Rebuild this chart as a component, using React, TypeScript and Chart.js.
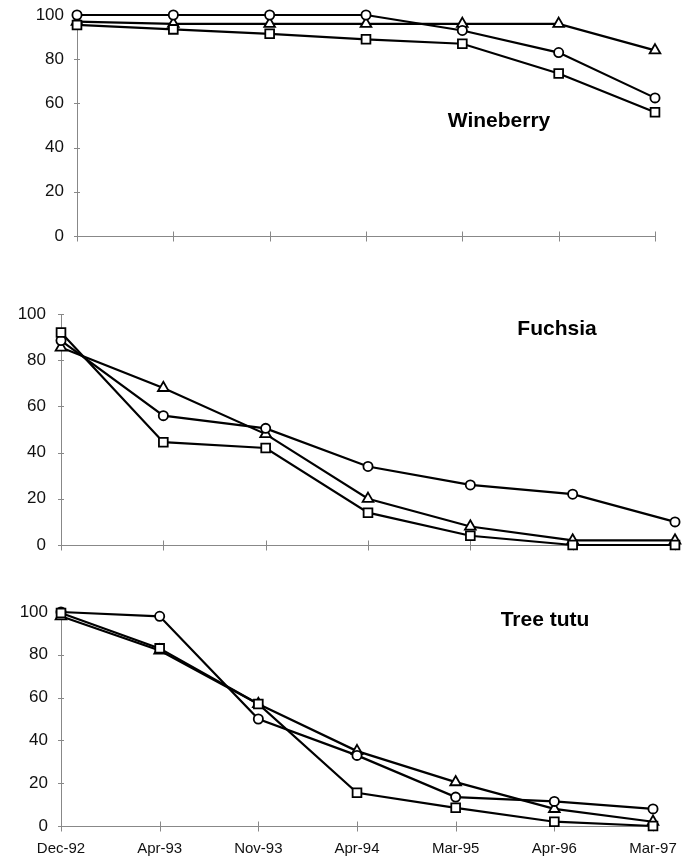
import React, { useEffect, useRef } from "react";
import { Chart, registerables } from "chart.js";

Chart.register(...registerables);

const dates = ["Dec-92", "Apr-93", "Nov-93", "Apr-94", "Mar-95", "Apr-96", "Mar-97"];
const yTicks = [0, 20, 40, 60, 80, 100];

const wineberryCircle = [100, 100, 100, 100, 93, 83, 62.5];
const wineberryTriangle = [97, 96, 96, 96, 96, 96, 84];
const wineberrySquare = [95.5, 93.5, 91.5, 89, 87, 73.5, 56];

const fuchsiaCircle = [88.5, 56, 50.5, 34, 26, 22, 10];
const fuchsiaTriangle = [85.5, 68, 48, 20, 8, 2, 2];
const fuchsiaSquare = [92, 44.5, 42, 14, 4, 0, 0];

const tutuCircle = [100, 98, 50, 33, 13.5, 11.5, 8];
const tutuTriangle = [98, 82, 57, 35, 20.5, 8, 2];
const tutuSquare = [99.5, 83, 57, 15.5, 8.5, 2, 0];

const FONT = "'Liberation Sans', Arial, Helvetica, sans-serif";
const W = 691;

const crossTicks = {
  id: "crossTicks",
  beforeDatasetsDraw(chart: any) {
    const ctx = chart.ctx;
    const xs = chart.scales.x;
    const ys = chart.scales.y;
    const area = chart.chartArea;
    ctx.save();
    ctx.strokeStyle = "#888";
    ctx.lineWidth = 1;
    const by = Math.round(area.bottom) + 0.5;
    ys.ticks.forEach((_: any, i: number) => {
      const yy = Math.round(ys.getPixelForTick(i)) + 0.5;
      ctx.beginPath();
      ctx.moveTo(area.left - 3, yy);
      ctx.lineTo(area.left + 3, yy);
      ctx.stroke();
    });
    dates.forEach((_: any, i: number) => {
      const xx = Math.round(xs.getPixelForValue(i)) + 0.5;
      ctx.beginPath();
      ctx.moveTo(xx, by - 5);
      ctx.lineTo(xx, by + 5);
      ctx.stroke();
    });
    ctx.restore();
  },
};

type PanelProps = {
  circle: number[];
  triangle: number[];
  square: number[];
  top: number;
  height: number;
  axisX: number;
  rightX: number;
  plotTop: number;
  plotBottom: number;
  labelGap: number;
  showX: boolean;
  title: string;
  titleX: number;
  titleY: number;
};

function mk(data: number[], style: string, radius: number) {
  return {
    data,
    borderColor: "#000",
    borderWidth: 2.2,
    pointStyle: style,
    pointRadius: radius,
    pointBorderWidth: 1.8,
    pointBackgroundColor: "#fff",
    pointBorderColor: "#000",
    tension: 0,
    clip: false,
    fill: false,
  };
}

function Panel(p: PanelProps) {
  const ref = useRef<HTMLCanvasElement | null>(null);
  useEffect(() => {
    if (!ref.current) return;
    const chart = new Chart(ref.current, {
      type: "line",
      data: {
        labels: dates,
        datasets: [
          mk(p.square, "rect", 6.2) as any,
          mk(p.circle, "circle", 4.6) as any,
          mk(p.triangle, "triangle", 6.2) as any,
        ],
      },
      options: {
        animation: false,
        responsive: false,
        devicePixelRatio: 1,
        layout: { padding: { top: p.plotTop, right: W - p.rightX, left: 0, bottom: 0 } },
        plugins: { legend: { display: false }, tooltip: { enabled: false }, title: { display: false } },
        scales: {
          x: {
            type: "category",
            offset: false,
            grid: { display: false, drawTicks: false },
            border: { display: true, color: "#888", width: 1 },
            ticks: {
              display: p.showX,
              autoSkip: false,
              maxRotation: 0,
              padding: 14,
              color: "#111",
              font: { family: FONT, size: 15 },
            },
            afterFit: (s: any) => {
              s.height = p.height - p.plotBottom;
            },
          },
          y: {
            min: 0,
            max: 100,
            afterBuildTicks: (s: any) => {
              s.ticks = yTicks.map((v) => ({ value: v }));
            },
            grid: { display: false, drawTicks: true, tickLength: p.labelGap },
            border: { display: true, color: "#888", width: 1 },
            ticks: {
              padding: 0,
              color: "#111",
              font: { family: FONT, size: 17 },
            },
            afterFit: (s: any) => {
              s.width = p.axisX;
            },
          },
        },
      } as any,
      plugins: [crossTicks],
    });
    return () => chart.destroy();
  }, []);
  return (
    <div style={{ position: "absolute", left: 0, top: p.top, width: W, height: p.height }}>
      <canvas ref={ref} width={W} height={p.height} style={{ width: W, height: p.height, display: "block" }} />
      <div
        style={{
          position: "absolute",
          left: p.titleX,
          top: p.titleY - p.top,
          transform: "translate(-50%, -50%)",
          fontFamily: FONT,
          fontWeight: "bold",
          fontSize: 21,
          lineHeight: 1,
          whiteSpace: "nowrap",
          color: "#000",
        }}
      >
        {p.title}
      </div>
    </div>
  );
}

export default function App() {
  return (
    <div style={{ position: "absolute", left: 0, top: 0, width: W, height: 860, background: "#fff" }}>
      <Panel
        circle={wineberryCircle}
        triangle={wineberryTriangle}
        square={wineberrySquare}
        top={0}
        height={250}
        axisX={77}
        rightX={655}
        plotTop={15}
        plotBottom={236}
        labelGap={13}
        showX={false}
        title="Wineberry"
        titleX={499}
        titleY={119}
      />
      <Panel
        circle={fuchsiaCircle}
        triangle={fuchsiaTriangle}
        square={fuchsiaSquare}
        top={270}
        height={290}
        axisX={61}
        rightX={675}
        plotTop={44}
        plotBottom={275}
        labelGap={15}
        showX={false}
        title="Fuchsia"
        titleX={557}
        titleY={327}
      />
      <Panel
        circle={tutuCircle}
        triangle={tutuTriangle}
        square={tutuSquare}
        top={570}
        height={290}
        axisX={61}
        rightX={653}
        plotTop={42}
        plotBottom={256}
        labelGap={13}
        showX={true}
        title="Tree tutu"
        titleX={545}
        titleY={618}
      />
    </div>
  );
}
